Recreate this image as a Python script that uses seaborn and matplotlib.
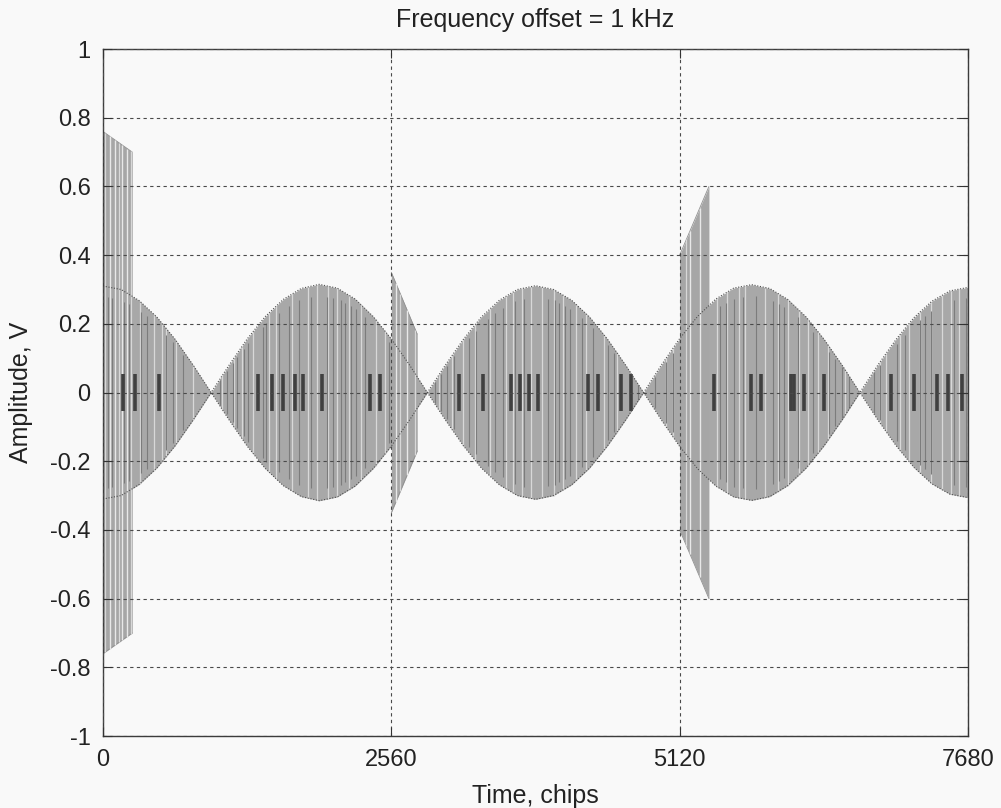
import matplotlib
matplotlib.use("Agg")
import matplotlib.pyplot as plt
import pandas as pd
import numpy as np
import seaborn as sns

# ---- data ----
# envelope of the received signal, sampled every 160 chips (0 .. 7680)
env_chips = list(range(0, 7681, 160))
env_amp = [0.310, 0.300, 0.268, 0.219, 0.155, 0.080, 0.000, 0.080, 0.156, 0.221, 0.271, 0.303,
           0.315, 0.304, 0.272, 0.221, 0.156, 0.081, 0.000, 0.080, 0.155, 0.220, 0.269, 0.300,
           0.311, 0.300, 0.269, 0.220, 0.155, 0.080, 0.000, 0.081, 0.157, 0.222, 0.272, 0.304,
           0.314, 0.303, 0.271, 0.221, 0.156, 0.081, 0.000, 0.080, 0.154, 0.218, 0.266, 0.296,
           0.306]

# strong bursts (start chip, end chip, amplitude at start, amplitude at end)
burst_start = [0, 2560, 5120]
burst_end = [260, 2790, 5380]
burst_amp0 = [0.76, 0.35, 0.40]
burst_amp1 = [0.70, 0.17, 0.60]
burst_gaps = [60, 110, 165, 215, 2600, 2700, 5210, 5300]

# texture inside the band: dark chip runs, mid lines, light gaps
dark_chips = [178, 284, 498, 1378, 1502, 1600, 1707, 1778, 1947, 2373, 2462, 3164, 3378,
              3620, 3700, 3780, 3860, 4302, 4391, 4596, 4684, 5422, 5751, 5840, 6107, 6133,
              6222, 6400, 6996, 7200, 7404, 7502, 7627]
mid_chips = [40, 80, 190, 230, 340, 391, 560, 620, 711, 1040, 1100, 1150, 1191, 1250, 1290,
             1420, 1450, 1560, 1650, 1740, 1850, 1990, 2044, 2110, 2150, 2200, 2250, 2330,
             2540, 2950, 3000, 3050, 3120, 3250, 3310, 3420, 3480, 3550, 3660, 3740, 3950,
             4010, 4050, 4100, 4150, 4250, 4350, 4480, 4540, 4750, 4900, 5000, 5060, 5480,
             5530, 5600, 5680, 5800, 5950, 6000, 6050, 6170, 6300, 6450, 6500, 6560, 6620,
             6850, 6900, 7050, 7120, 7250, 7300, 7350, 7560, 7660]
light_chips = [20, 140, 250, 330, 450, 520, 560, 650, 800, 1060, 1160, 1230, 1330, 1470,
               1540, 1680, 1820, 1900, 2000, 2080, 2180, 2290, 2420, 2500, 2640, 2773, 2980,
               3100, 3200, 3300, 3440, 3580, 3644, 3724, 3796, 3900, 4000, 4080, 4200, 4290,
               4450, 4560, 5000, 5060, 5180, 5450, 5540, 5650, 5700, 5880, 5990, 6080, 6180,
               6260, 6350, 6440, 6590, 6900, 6950, 7080, 7160, 7250, 7350, 7450, 7530, 7600]

x_ticks = [0, 2560, 5120, 7680]
y_ticks = [-1, -0.8, -0.6, -0.4, -0.2, 0, 0.2, 0.4, 0.6, 0.8, 1]
y_labels = ['-1', '-0.8', '-0.6', '-0.4', '-0.2', '0', '0.2', '0.4', '0.6', '0.8', '1']

# ---- style ----
sns.set_theme(style="white")
plt.rcParams['font.family'] = ['Liberation Sans', 'DejaVu Sans']
plt.rcParams['axes.unicode_minus'] = False

bg = '#f9f9f9'
fig = plt.figure(figsize=(10.01, 8.08), dpi=100, facecolor=bg)
ax = fig.add_axes([0.1029, 0.0891, 0.8641, 0.8502], facecolor=bg)

env = pd.DataFrame({'chip': env_chips, 'upper': env_amp})
env['lower'] = -env['upper']

# main band
ax.fill_between(env['chip'], env['lower'], env['upper'], color='#a8a8a8', lw=0, zorder=1)

# bursts
for s, e, a0, a1 in zip(burst_start, burst_end, burst_amp0, burst_amp1):
    ax.fill_between([s, e], [-a0, -a1], [a0, a1], color='#a6a6a6', lw=0, zorder=1)
    ax.plot([s, e], [a0, a1], color='#909090', lw=0.6, zorder=1.5)
    ax.plot([s, e], [-a0, -a1], color='#909090', lw=0.6, zorder=1.5)

def amp_at(c):
    h = np.interp(c, env_chips, env_amp)
    for s, e, a0, a1 in zip(burst_start, burst_end, burst_amp0, burst_amp1):
        if s <= c <= e:
            h = max(h, np.interp(c, [s, e], [a0, a1]))
    return h

h_light = np.array([amp_at(c) for c in light_chips])
ax.vlines(light_chips, -h_light, h_light, colors='#d8d8d8', lw=0.9, zorder=1.6)
h_gap = np.array([amp_at(c) for c in burst_gaps])
ax.vlines(burst_gaps, -h_gap, h_gap, colors='#e8e8e8', lw=1.0, zorder=1.6)

h_mid = np.array([np.interp(c, env_chips, env_amp) for c in mid_chips]) * 0.9
ax.vlines(mid_chips, -h_mid, h_mid, colors='#7c7c7c', lw=0.8, zorder=1.7)

h_dark = np.minimum(np.array([np.interp(c, env_chips, env_amp) for c in dark_chips]), 0.055)
ax.vlines(dark_chips, -h_dark, h_dark, colors='#404040', lw=2.6, zorder=1.8)

# envelope edges (sampled look)
sns.lineplot(data=env, x='chip', y='upper', ax=ax, color='#505050', lw=0.8,
             linestyle=(0, (1, 1.5)), zorder=1.9)
sns.lineplot(data=env, x='chip', y='lower', ax=ax, color='#505050', lw=0.8,
             linestyle=(0, (1, 1.5)), zorder=1.9)

# ---- axes ----
ax.set_xlim(0, 7680)
ax.set_ylim(-1, 1)
ax.set_xticks(x_ticks)
ax.set_xticklabels([str(t) for t in x_ticks])
ax.set_yticks(y_ticks)
ax.set_yticklabels(y_labels)
ax.set_axisbelow(False)
ax.grid(True, linestyle=(0, (3, 3)), color='#4a4a4a', lw=0.8)
ax.tick_params(direction='in', length=6.5, width=0.8, color='#333333', top=True, right=True,
               bottom=True, left=True, labelsize=17, pad=9, labelcolor='#222222')
for sp in ax.spines.values():
    sp.set_color('#3c3c3c')
    sp.set_linewidth(1.0)

ax.set_title('Frequency offset = 1 kHz', fontsize=18, pad=16, color='#222222')
ax.set_xlabel('Time, chips', fontsize=18, labelpad=10, color='#222222')
ax.set_ylabel('Amplitude, V', fontsize=18, labelpad=12, color='#222222')

fig.savefig('out.png', dpi=100, facecolor=bg)
